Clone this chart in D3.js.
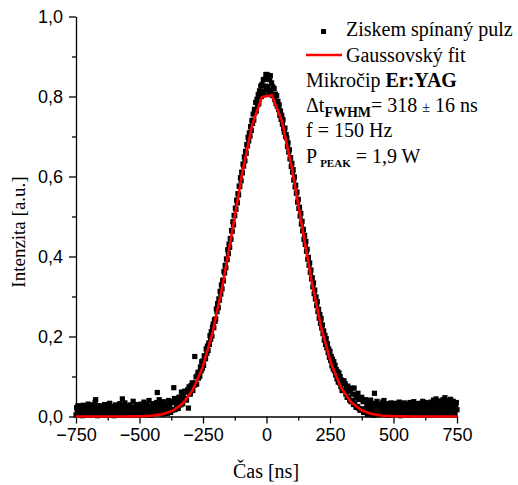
<!DOCTYPE html>
<html>
<head>
<meta charset="utf-8">
<script src="https://cdn.jsdelivr.net/npm/d3@7"></script>
<style>
  body { margin: 0; background: #fff; }
</style>
</head>
<body>
<div id="chart"></div>
<script>
// measured pulse, sampled every 2.5 ns
const t0 = -750, dt = 2.5

// -750 .. -402.5 ns
const leftTail = [
  0.004, 0.022, 0.013, 0.027, 0.006, 0.016, 0.003, 0.019, 0.025, 0.011, 0.002, 0.028, 0.015, 0.007, 0.021, 0.012, 0.026, 0.005, 0.017, 0.031,
  0.008, 0.014, 0.024, 0.003, 0.018, 0.029, 0.010, 0.005, 0.022, 0.015, 0.036, 0.042, 0.013, 0.024, 0.002, 0.019, 0.027, 0.009, 0.014, 0.021,
  0.004, 0.026, 0.012, 0.018, 0.007, 0.030, 0.015, 0.003, 0.023, 0.011, 0.028, 0.006, 0.017, 0.033, 0.009, 0.020, 0.013, 0.004, 0.025, 0.016,
  0.002, 0.021, 0.029, 0.011, 0.006, 0.018, 0.024, 0.008, 0.015, 0.032, 0.004, 0.012, 0.027, 0.044, 0.005, 0.023, 0.010, 0.034, 0.014, 0.003,
  0.020, 0.009, 0.026, 0.015, 0.004, 0.029, 0.012, 0.022, 0.007, 0.017, 0.038, 0.010, 0.003, 0.024, 0.014, 0.030, 0.006, 0.019, 0.027, 0.011,
  0.005, 0.023, 0.016, 0.031, 0.008, 0.020, 0.013, 0.036, 0.004, 0.026, 0.017, 0.010, 0.029, 0.006, 0.021, 0.040, 0.012, 0.018, 0.003, 0.025,
  0.014, 0.032, 0.007, 0.022, 0.028, 0.011, 0.017, 0.035, 0.060, 0.024, 0.015, 0.042, 0.009, 0.020, 0.030, 0.012, 0.026, 0.006, 0.037, 0.018
]

// -400 .. 397.5 ns
const pulse = [
  0.029, 0.008, 0.024, 0.015, 0.008, 0.030, 0.040, 0.019, 0.029, 0.010, 0.037, 0.017, 0.016, 0.036, 0.072, 0.045,
  0.017, 0.035, 0.025, 0.044, 0.036, 0.020, 0.048, 0.031, 0.048, 0.029, 0.061, 0.039, 0.032, 0.053, 0.045, 0.063,
  0.045, 0.063, 0.041, 0.061, 0.067, 0.021, 0.074, 0.057, 0.056, 0.077, 0.065, 0.084, 0.065, 0.084, 0.078, 0.150,
  0.080, 0.099, 0.081, 0.101, 0.110, 0.096, 0.111, 0.101, 0.124, 0.114, 0.137, 0.120, 0.139, 0.128, 0.152, 0.144,
  0.145, 0.169, 0.158, 0.176, 0.165, 0.184, 0.180, 0.202, 0.193, 0.212, 0.201, 0.223, 0.231, 0.222, 0.242, 0.238,
  0.244, 0.269, 0.262, 0.282, 0.272, 0.294, 0.291, 0.313, 0.306, 0.329, 0.319, 0.341, 0.339, 0.363, 0.359, 0.378,
  0.372, 0.394, 0.392, 0.417, 0.407, 0.431, 0.423, 0.445, 0.443, 0.465, 0.463, 0.487, 0.479, 0.503, 0.502, 0.521,
  0.518, 0.541, 0.534, 0.557, 0.554, 0.576, 0.575, 0.597, 0.589, 0.611, 0.609, 0.631, 0.626, 0.649, 0.639, 0.663,
  0.658, 0.680, 0.677, 0.698, 0.689, 0.709, 0.701, 0.725, 0.715, 0.740, 0.733, 0.756, 0.741, 0.768, 0.761, 0.785,
  0.764, 0.793, 0.780, 0.805, 0.782, 0.814, 0.800, 0.826, 0.800, 0.830, 0.812, 0.842, 0.807, 0.843, 0.826, 0.855,
  0.817, 0.855, 0.825, 0.848, 0.810, 0.842, 0.852, 0.815, 0.834, 0.803, 0.824, 0.802, 0.820, 0.792, 0.806, 0.782,
  0.802, 0.775, 0.788, 0.767, 0.779, 0.753, 0.764, 0.743, 0.753, 0.731, 0.742, 0.720, 0.711, 0.721, 0.700, 0.705,
  0.696, 0.675, 0.684, 0.661, 0.667, 0.644, 0.647, 0.625, 0.633, 0.611, 0.617, 0.591, 0.599, 0.574, 0.578, 0.558,
  0.561, 0.536, 0.543, 0.520, 0.523, 0.501, 0.508, 0.481, 0.488, 0.464, 0.468, 0.443, 0.453, 0.430, 0.438, 0.413,
  0.418, 0.393, 0.398, 0.378, 0.384, 0.360, 0.366, 0.344, 0.347, 0.324, 0.334, 0.307, 0.316, 0.294, 0.299, 0.277,
  0.287, 0.262, 0.268, 0.246, 0.255, 0.233, 0.245, 0.221, 0.229, 0.207, 0.214, 0.191, 0.203, 0.180, 0.195, 0.172,
  0.182, 0.160, 0.169, 0.148, 0.163, 0.140, 0.150, 0.127, 0.143, 0.119, 0.137, 0.114, 0.128, 0.104, 0.117, 0.094,
  0.112, 0.086, 0.109, 0.084, 0.100, 0.075, 0.091, 0.065, 0.089, 0.065, 0.089, 0.066, 0.082, 0.056, 0.073, 0.048,
  0.076, 0.048, 0.063, 0.041, 0.065, 0.037, 0.071, 0.040, 0.056, 0.030, 0.071, 0.033, 0.054, 0.023, 0.046, 0.025,
  0.058, 0.021, 0.043, 0.016, 0.043, 0.016, 0.048, 0.019, 0.037, 0.010, 0.041, 0.019, 0.042, 0.011, 0.031, 0.005
]

// 400 .. 750 ns
const rightTail = [
  0.024, 0.006, 0.035, 0.015, 0.041, 0.009, 0.027, 0.018, 0.003, 0.033, 0.058, 0.012, 0.022, 0.007, 0.038, 0.016, 0.028, 0.004, 0.020, 0.031,
  0.010, 0.025, 0.014, 0.036, 0.005, 0.040, 0.018, 0.029, 0.008, 0.022, 0.013, 0.032, 0.003, 0.019, 0.027, 0.011, 0.034, 0.006, 0.024, 0.015,
  0.029, 0.004, 0.018, 0.033, 0.010, 0.023, 0.014, 0.027, 0.006, 0.036, 0.016, 0.002, 0.025, 0.012, 0.030, 0.008, 0.020, 0.034, 0.013, 0.005,
  0.022, 0.031, 0.009, 0.017, 0.026, 0.003, 0.035, 0.014, 0.021, 0.007, 0.028, 0.012, 0.037, 0.019, 0.005, 0.024, 0.032, 0.010, 0.016, 0.027,
  0.004, 0.020, 0.033, 0.013, 0.025, 0.008, 0.038, 0.017, 0.029, 0.006, 0.022, 0.035, 0.011, 0.003, 0.027, 0.016, 0.032, 0.009, 0.021, 0.036,
  0.014, 0.026, 0.005, 0.041, 0.019, 0.030, 0.010, 0.044, 0.023, 0.007, 0.034, 0.016, 0.028, 0.039, 0.004, 0.021, 0.033, 0.012, 0.042, 0.025,
  0.008, 0.047, 0.031, 0.018, 0.040, 0.011, 0.026, 0.036, 0.005, 0.022, 0.043, 0.014, 0.029, 0.009, 0.038, 0.020, 0.032, 0.006, 0.024, 0.035,
  0.017
]

// Gaussian fit curve points
const fitTime = [-750, -720, -681, -642, -603, -564, -525, -486, -447, -408, -369, -330, -291, -252, -213, -174, -135, -96, -57, -18,
  21, 60, 99, 138, 177, 216, 255, 294, 333, 372, 411, 450, 489, 528, 567, 606, 645, 684, 723, 750]
const fitValue = [0, 0, 0, 0, 0.0000, 0.0001, 0.0003, 0.0008, 0.0023, 0.0060, 0.0145, 0.0322, 0.0654, 0.1218, 0.2076, 0.3241, 0.4633, 0.6066, 0.7274, 0.7987,
  0.8033, 0.7398, 0.6240, 0.4820, 0.3409, 0.2209, 0.1311, 0.0712, 0.0354, 0.0161, 0.0067, 0.0026, 0.0009, 0.0003, 0.0001, 0, 0, 0, 0, 0]

const xMajor = [-750, -500, -250, 0, 250, 500, 750]
const xMinor = [-625, -375, -125, 125, 375, 625]
const yMajor = [0, 0.2, 0.4, 0.6, 0.8, 1.0]
const yMinor = [0.1, 0.3, 0.5, 0.7, 0.9]

const width = 518, height = 485
const sansFont = "Arial, 'Liberation Sans', sans-serif"
const serifFont = "'Liberation Serif', 'Times New Roman', serif"

const svg = d3.select("#chart")
  .append("svg")
  .attr("width", width)
  .attr("height", height)

const x = d3.scaleLinear().domain([-750, 750]).range([76, 457])
const y = d3.scaleLinear().domain([0, 1]).range([416.5, 16.5])

const comma = d => d3.format(".1f")(d).replace(".", ",")

// axes
svg.append("g")
  .attr("transform", `translate(0,${y(0)})`)
  .call(d3.axisBottom(x).tickValues(xMinor).tickSize(4).tickFormat(""))
  .call(g => g.select(".domain").remove())
  .selectAll("line").attr("stroke", "#000").attr("stroke-width", 1.3)

svg.append("g")
  .attr("transform", `translate(0,${y(0)})`)
  .call(d3.axisBottom(x).tickValues(xMajor).tickSize(7).tickSizeOuter(0).tickPadding(5).tickFormat(d3.format("d")))
  .call(g => g.selectAll("line, path").attr("stroke", "#000").attr("stroke-width", 1.3))
  .selectAll("text")
    .attr("font-family", sansFont)
    .attr("font-size", 18)
    .attr("fill", "#000")

svg.append("g")
  .attr("transform", `translate(${x(-750)},0)`)
  .call(d3.axisLeft(y).tickValues(yMinor).tickSize(4).tickFormat(""))
  .call(g => g.select(".domain").remove())
  .selectAll("line").attr("stroke", "#000").attr("stroke-width", 1.3)

svg.append("g")
  .attr("transform", `translate(${x(-750)},0)`)
  .call(d3.axisLeft(y).tickValues(yMajor).tickSize(7).tickSizeOuter(0).tickPadding(6).tickFormat(comma))
  .call(g => g.selectAll("line, path").attr("stroke", "#000").attr("stroke-width", 1.3))
  .selectAll("text")
    .attr("font-family", sansFont)
    .attr("font-size", 18)
    .attr("fill", "#000")

// data points
const data = leftTail.concat(pulse, rightTail).map((v, i) => ({t: t0 + i * dt, v: v}))
const sq = 5.2

svg.append("g")
  .selectAll("rect")
  .data(data)
  .enter().append("rect")
    .attr("x", d => x(d.t) - sq / 2)
    .attr("y", d => y(d.v) - sq / 2)
    .attr("width", sq)
    .attr("height", sq)
    .attr("fill", "#000")

// gaussian fit
const fit = fitTime.map((t, i) => [t, fitValue[i]])
svg.append("path")
  .datum(fit)
  .attr("fill", "none")
  .attr("stroke", "#ff0000")
  .attr("stroke-width", 2.6)
  .attr("stroke-linejoin", "round")
  .attr("d", d3.line().x(d => x(d[0])).y(d => y(d[1])))

// axis titles
svg.append("text")
  .attr("font-family", serifFont)
  .attr("font-size", 19)
  .attr("transform", "translate(25,232) rotate(-90)")
  .attr("text-anchor", "middle")
  .text("Intenzita [a.u.]")

svg.append("text")
  .attr("font-family", serifFont)
  .attr("font-size", 20)
  .attr("x", 266)
  .attr("y", 478)
  .attr("text-anchor", "middle")
  .text("Čas [ns]")

// legend
const lg = svg.append("g")
  .attr("font-family", serifFont)
  .attr("font-size", 20)
  .attr("fill", "#000")

lg.append("rect").attr("x", 321).attr("y", 29).attr("width", 5).attr("height", 5).attr("fill", "#000")
lg.append("text").attr("x", 346).attr("y", 36).text("Ziskem spínaný pulz")

lg.append("line").attr("x1", 306).attr("x2", 342).attr("y1", 55).attr("y2", 55)
  .attr("stroke", "#ff0000").attr("stroke-width", 2.6)
lg.append("text").attr("x", 346).attr("y", 61.5).text("Gaussovský fit")

const l3 = lg.append("text").attr("x", 306).attr("y", 87)
l3.append("tspan").text("Mikročip ")
l3.append("tspan").attr("font-weight", "bold").text("Er:YAG")

const l4 = lg.append("text").attr("x", 306).attr("y", 111.5)
l4.append("tspan").text("Δt")
l4.append("tspan").attr("dy", 5).attr("font-weight", "bold").attr("font-size", 14).text("FWHM")
l4.append("tspan").attr("dy", -5).text("= 318 ")
l4.append("tspan").attr("font-size", 14).text("±")
l4.append("tspan").text(" 16 ns")

lg.append("text").attr("x", 306).attr("y", 136.5).text("f = 150 Hz")

const l6 = lg.append("text").attr("x", 306).attr("y", 163)
l6.append("tspan").text("P")
l6.append("tspan").attr("dx", 3).attr("dy", 4).attr("font-weight", "bold").attr("font-size", 11).text("PEAK")
l6.append("tspan").attr("dy", -4).text(" = 1,9 W")
</script>
</body>
</html>
